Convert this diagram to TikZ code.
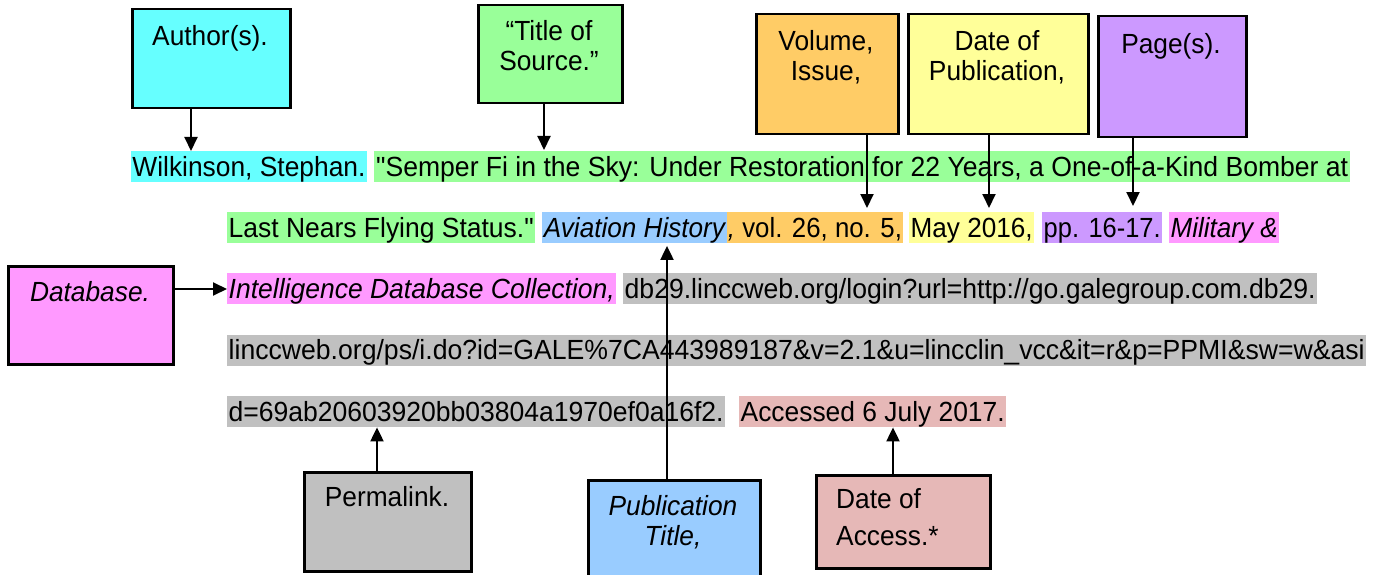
\documentclass[tikz,border=0pt]{standalone}
\usepackage{fontspec}
\setmainfont{Liberation Sans}
\usepackage{graphicx}
\usetikzlibrary{arrows.meta}
\definecolor{hcyan}{HTML}{66FFFF}
\definecolor{hgreen}{HTML}{99FF99}
\definecolor{hblue}{HTML}{99CCFF}
\definecolor{horange}{HTML}{FFCC66}
\definecolor{hyellow}{HTML}{FFFF99}
\definecolor{hpurple}{HTML}{CC99FF}
\definecolor{hpink}{HTML}{FF99FF}
\definecolor{hgray}{HTML}{C0C0C0}
\definecolor{hrose}{HTML}{E6B8B7}
\newcommand\fitw[2]{\resizebox{#1}{\height}{#2}}
\newcommand\sqz[1]{\scalebox{0.95}[1]{#1}}
\begin{document}
\begin{tikzpicture}[x=1pt,y=-1pt,
  every node/.style={font=\fontsize{27.7}{31}\selectfont},
  hl/.style={anchor=north west, inner sep=0pt, minimum height=31pt, text height=25pt, text depth=6pt},
  lbox/.style={draw=black, line width=2.5pt, anchor=north west, inner sep=0pt},
  lbl/.style={anchor=base, inner sep=0pt},
  arr/.style={line width=2pt, -{Triangle[width=13pt,length=14pt]}}]
\useasboundingbox (0,0) rectangle (1374,575);

% boxes
\node[lbox, fill=hcyan, minimum width=158pt, minimum height=99pt] (author) at (131,8) {};
\node[lbox, fill=hgreen, minimum width=144pt, minimum height=98pt] (title) at (477,4) {};
\node[lbox, fill=horange, minimum width=142pt, minimum height=120pt] (volume) at (755,13) {};
\node[lbox, fill=hyellow, minimum width=180pt, minimum height=120pt] (pubdate) at (907,13) {};
\node[lbox, fill=hpurple, minimum width=148pt, minimum height=121pt] (pages) at (1097,15) {};
\node[lbox, fill=hpink, minimum width=165pt, minimum height=98pt] (database) at (7,265) {};
\node[lbox, fill=hgray, minimum width=167pt, minimum height=99pt] (permalink) at (303,471) {};
\node[lbox, fill=hblue, minimum width=172pt, minimum height=100pt] (pubtitle) at (587,479) {};
\node[lbox, fill=hrose, minimum width=174pt, minimum height=93pt] (access) at (815,474) {};

% box texts
\node[lbl] (authorT) at (210,46) {\sqz{Author(s).}};
\node[lbl] (titleT1) at (549,41) {\sqz{“Title of}};
\node[lbl] (titleT2) at (549,71) {\sqz{Source.”}};
\node[lbl] (volT1) at (826,51) {\sqz{Volume,}};
\node[lbl] (volT2) at (826,81) {\sqz{Issue,}};
\node[lbl] (dateT1) at (997,51) {\sqz{Date of}};
\node[lbl] (dateT2) at (997,81) {\sqz{Publication,}};
\node[lbl] (pageT) at (1171,54) {\sqz{Page(s).}};
\node[lbl] (dbT) at (90,301) {\sqz{\itshape Database.}};
\node[lbl] (permT) at (387,506) {\sqz{Permalink.}};
\node[lbl] (pubT1) at (673,515) {\sqz{\itshape Publication}};
\node[lbl] (pubT2) at (673,545) {\sqz{\itshape Title,}};
\node[lbl, anchor=base west] (accT1) at (836,508) {\sqz{Date of}};
\node[lbl, anchor=base west] (accT2) at (836,545) {\sqz{Access.*}};

% citation lines
\node[hl, fill=hcyan, minimum width=235.5pt] (la) at (131,151) {\fitw{233pt}{Wilkinson, Stephan.}};
\node[hl, fill=hgreen, minimum width=976pt] (lb) at (374,151) {\fitw{972pt}{\textquotedbl Semper Fi in the Sky: Under Restoration for 22 Years, a One-of-a-Kind Bomber at}};
\node[hl, fill=hgreen, minimum width=308pt] (lc) at (227,212) {\fitw{305pt}{Last Nears Flying Status.\textquotedbl}};
\node[hl, fill=hblue, minimum width=184.5pt] (ld) at (542,212) {\fitw{181pt}{\itshape Aviation History}};
\node[hl, fill=horange, minimum width=176.5pt] (le) at (726.5,212) {\fitw{174pt}{{\itshape ,} vol. 26, no. 5,}};
\node[hl, fill=hyellow, minimum width=125pt] (lf) at (909,212) {\fitw{122pt}{May 2016,}};
\node[hl, fill=hpurple, minimum width=120pt] (lg) at (1042,212) {\fitw{117pt}{pp. 16-17.}};
\node[hl, fill=hpink, minimum width=110pt] (lh) at (1169,212) {\fitw{107pt}{\itshape Military \&}};
\node[hl, fill=hpink, minimum width=389pt] (li) at (227,273) {\fitw{386pt}{\itshape Intelligence Database Collection,}};
\node[hl, fill=hgray, minimum width=694pt] (lj) at (623,273) {\fitw{691pt}{db29.linccweb.org/login?url=http://go.galegroup.com.db29.}};
\node[hl, fill=hgray, minimum width=1139pt] (lk) at (227,334.5) {\fitw{1136pt}{linccweb.org/ps/i.do?id=GALE\%7CA443989187\&v=2.1\&u=lincclin\_vcc\&it=r\&p=PPMI\&sw=w\&asi}};
\node[hl, fill=hgray, minimum width=498pt] (ll) at (227,396) {\fitw{495pt}{d=69ab20603920bb03804a1970ef0a16f2.}};
\node[hl, fill=hrose, minimum width=267pt] (lm) at (739,396) {\fitw{264pt}{Accessed 6 July 2017.}};

% connectors
\coordinate (xa) at (191,0);
\coordinate (xt) at (544,0);
\coordinate (xv) at (867,0);
\coordinate (xd) at (989,0);
\coordinate (xp) at (1133,0);
\coordinate (yd) at (0,289);
\coordinate (xk) at (377,0);
\coordinate (xu) at (667,0);
\coordinate (xc) at (893,0);
\draw[arr] (xa |- author.south) -- (xa |- la.north);
\draw[arr, shorten >=1pt] (xt |- title.south) -- (xt |- lb.north);
\draw[arr, shorten >=4pt] (xv |- volume.south) -- (xv |- lf.north);
\draw[arr, shorten >=4pt] (xd |- pubdate.south) -- (xd |- lf.north);
\draw[arr, shorten >=6pt] (xp |- pages.south) -- (xp |- lg.north);
\draw[arr] (yd -| database.east) -- (yd -| li.west);
\draw[arr] (xk |- permalink.north) -- (xk |- ll.south);
\draw[arr, shorten >=2.5pt] (xu |- pubtitle.north) -- (xu |- ld.south);
\draw[arr] (xc |- access.north) -- (xc |- lm.south);
\end{tikzpicture}
\end{document}
